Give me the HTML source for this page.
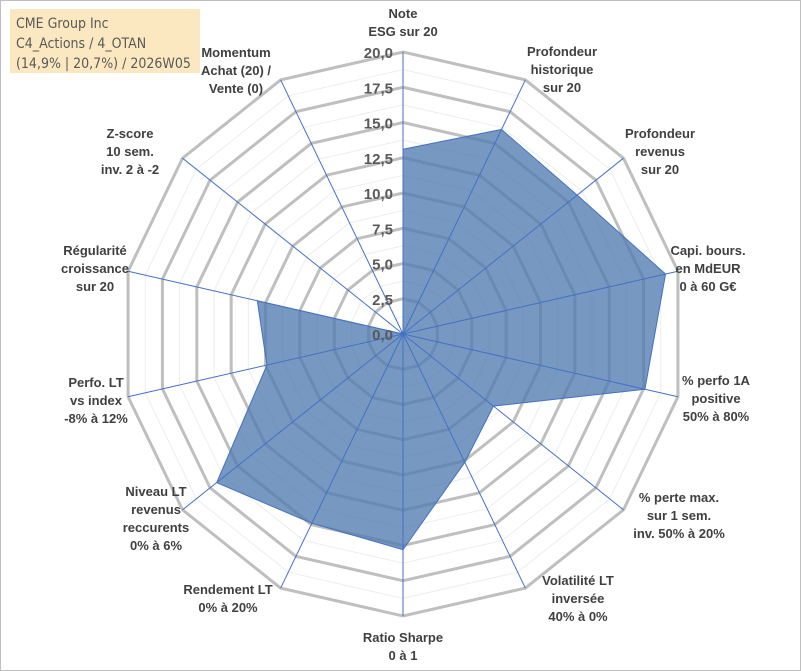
<!DOCTYPE html>
<html><head><meta charset="utf-8"><style>
body{margin:0;background:#fff;}
#wrap{position:relative;width:801px;height:671px;overflow:hidden;font-family:"Liberation Sans",sans-serif;}
svg text{font-family:"Liberation Sans",sans-serif;}
</style></head><body>
<div id="wrap">
<svg id="chart" width="801" height="671">
<rect x="0.5" y="0.5" width="800" height="670" fill="#fff" stroke="#bfbfbf"/>
<rect x="10" y="9" width="190" height="64" fill="#fce8c0"/>
<text x="16" y="28" font-size="14" fill="#595959" style="font-family:'DejaVu Sans Condensed','Liberation Sans',sans-serif">CME Group Inc</text>
<text x="16" y="48" font-size="14" fill="#595959" style="font-family:'DejaVu Sans Condensed','Liberation Sans',sans-serif">C4_Actions / 4_OTAN</text>
<text x="16" y="68" font-size="14" fill="#595959" style="font-family:'DejaVu Sans Condensed','Liberation Sans',sans-serif">(14,9% | 20,7%) / 2026W05</text>
<g id="grid"></g><g id="series"></g><g id="axes"></g><g id="labels"></g>
</svg>
</div>
<script>
const categories=[["Note","ESG sur 20"],["Profondeur","historique","sur 20"],["Profondeur","revenus","sur 20"],["Capi. bours.","en MdEUR","0 à 60 G€"],["% perfo 1A","positive","50% à 80%"],["% perte max.","sur 1 sem.","inv. 50% à 20%"],["Volatilité LT","inversée","40% à 0%"],["Ratio Sharpe","0 à 1"],["Rendement LT","0% à 20%"],["Niveau LT","revenus","reccurents","0% à 6%"],["Perfo. LT","vs index","-8% à 12%"],["Régularité","croissance","sur 20"],["Z-score","10 sem.","inv. 2 à -2"],["Momentum","Achat (20) /","Vente (0)"]];
const values=[13.1,16.1,15.8,19.1,17.6,8.2,10.1,15.3,14.9,16.9,9.9,10.6,0,0];
const tickLabels=["0,0","2,5","5,0","7,5","10,0","12,5","15,0","17,5","20,0"];
const tickValues=[0,2.5,5,7.5,10,12.5,15,17.5,20];
const labelPos=[[403,22,"middle"],[562,69,"middle"],[660,151,"middle"],[708,268,"middle"],[716,398,"middle"],[679,515,"middle"],[578,598,"middle"],[403,646,"middle"],[228,598,"middle"],[156,518,"middle"],[96,400,"middle"],[95,268,"middle"],[130,151,"middle"],[236,70,"middle"]];
const NS="http://www.w3.org/2000/svg";
const cx=403,cy=334,R=282,maxV=20,n=categories.length;
function rs(v){return v/maxV*R;}
function pt(i,v){const a=i*2*Math.PI/n;return [cx+rs(v)*Math.sin(a),cy-rs(v)*Math.cos(a)];}
function mk(tag,attrs,parent){const e=document.createElementNS(NS,tag);for(const k in attrs)e.setAttribute(k,attrs[k]);parent.appendChild(e);return e;}
const grid=document.getElementById('grid');
for(let k=1;k<=16;k++){
  const v=k*1.25;
  const p=categories.map((c,i)=>pt(i,v).join(',')).join(' ');
  const major=k%2===0;
  const e=mk('polygon',{points:p,fill:'none',stroke:major?'#bfbfbf':'#ededed','stroke-width':major?3:1},grid);
  
  
}
const series=document.getElementById('series');
const poly=mk('polygon',{points:values.map((v,i)=>pt(i,v).join(',')).join(' '),fill:'#4f7bb0','fill-opacity':'0.78',stroke:'#4472c4','stroke-width':1},series);


const axes=document.getElementById('axes');
categories.forEach((c,i)=>{
  const [x,y]=pt(i,maxV);
  const l=mk('line',{x1:cx,y1:cy,x2:x,y2:y,stroke:'#4472c4','stroke-width':1},axes);
  
  
});
const labels=document.getElementById('labels');
tickValues.forEach((v,j)=>{
  const t=mk('text',{x:cx-10,y:cy-rs(v)+6,'text-anchor':'end','font-size':15,'font-weight':'bold',fill:'#595959'},labels);
  t.textContent=tickLabels[j];
  
  
});
categories.forEach((c,i)=>{
  const [x,y,anc]=labelPos[i];
  const t=mk('text',{x:x,y:y-(c.length-1)*9+5,'text-anchor':anc,'font-size':13,'font-weight':'bold',fill:'#404040'},labels);
  
  
  c.forEach((line,j)=>{const s=mk('tspan',{x:x,dy:j===0?0:18},t);s.textContent=line;});
});
</script>
</body></html>
